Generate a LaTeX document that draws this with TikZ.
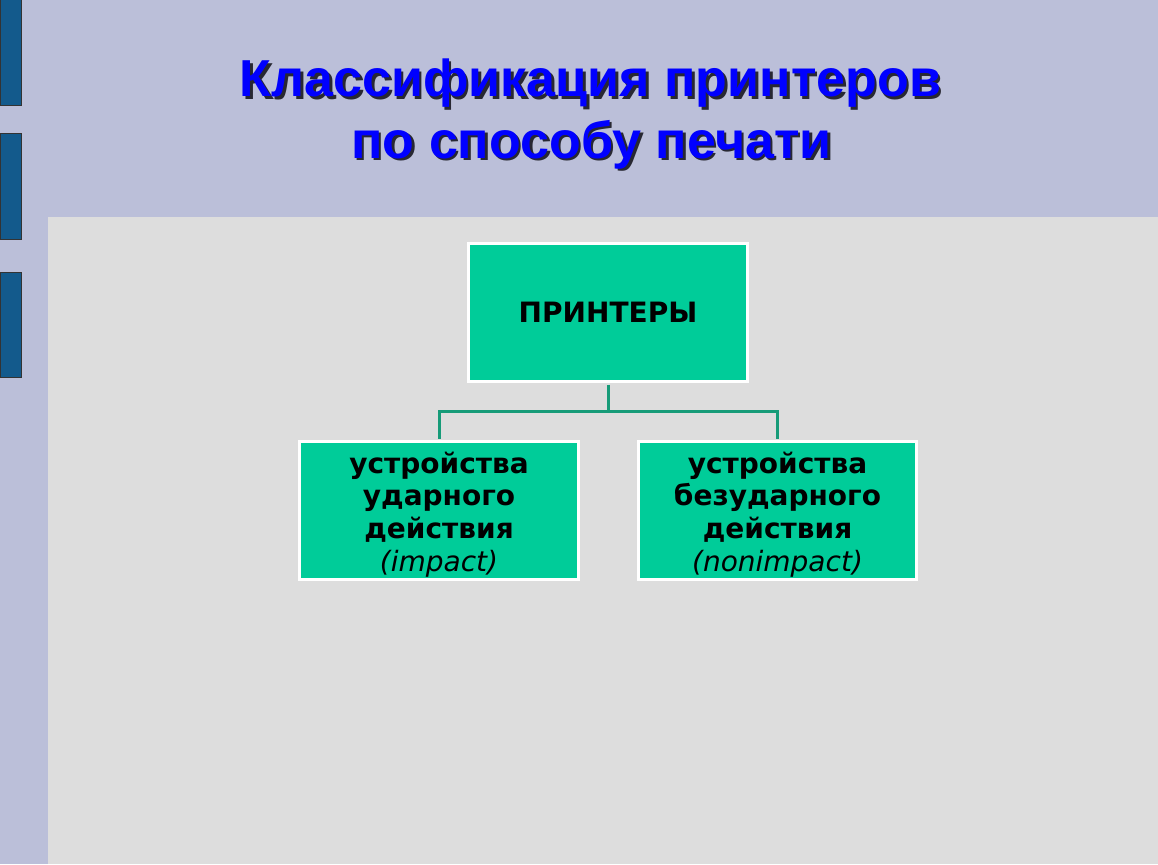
\documentclass[tikz,border=0pt]{standalone}
\usepackage{fontspec}
\setmainfont{DejaVu Sans}
\newfontfamily\titlefont{Liberation Sans}
\newfontfamily\boxfont{DejaVu Sans}
\definecolor{bglav}{RGB}{187,191,217}
\definecolor{panelgray}{RGB}{221,221,221}
\definecolor{barblue}{RGB}{19,90,140}
\definecolor{boxgreen}{RGB}{0,204,153}
\definecolor{conngreen}{RGB}{22,155,120}
\definecolor{titleblue}{RGB}{0,0,255}
\definecolor{shadowgray}{RGB}{40,40,50}
\newcommand{\shadowed}[1]{\makebox[0pt][l]{\hspace{2.5pt}\raisebox{-2.5pt}{\color{shadowgray}#1}}#1}
\newcommand{\topstrut}{\rule{0pt}{29.5pt}}
\tikzset{
  bar/.style={fill=barblue,draw=black!80,line width=0.8pt},
  gbox/.style={rectangle,fill=boxgreen,draw=white,line width=3pt,align=center,inner sep=0pt},
  conn/.style={draw=conngreen,line width=3pt},
  titletext/.style={anchor=base,font=\titlefont\bfseries\fontsize{52}{61}\selectfont,text=titleblue,inner sep=0pt}
}
\begin{document}
\begin{tikzpicture}[x=1pt,y=-1pt]
\useasboundingbox (0,0) rectangle (1158,864);
\fill[bglav] (0,0) rectangle (1158,864);
\fill[panelgray] (48,216.5) rectangle (1158,864);
\draw[bar] (0.4,-1) rectangle (21,105);
\draw[bar] (0.4,133) rectangle (21,239);
\draw[bar] (0.4,272) rectangle (21,377);
% title
\node[titletext] (t1) at (590.5,97) {\shadowed{Классификация принтеров}};
\node[titletext] (t2) at (591.5,158) {\shadowed{по способу печати}};
% boxes
\node[gbox,minimum width=279pt,minimum height=138pt,font=\boxfont\bfseries\fontsize{28}{33}\selectfont] (top) at (608,312.5) {ПРИНТЕРЫ};
\node[gbox,minimum width=279pt,minimum height=138pt,font=\boxfont\fontsize{28}{32.7}\selectfont] (left) at (439,510.5)
  {\topstrut\bfseries устройства\\\bfseries ударного\\\bfseries действия\\\itshape (impact)};
\node[gbox,minimum width=278pt,minimum height=138pt,font=\boxfont\fontsize{28}{32.7}\selectfont] (right) at (777.5,510.5)
  {\topstrut\bfseries устройства\\\bfseries безударного\\\bfseries действия\\\itshape (nonimpact)};
% connectors
\coordinate (bus) at (608,411);
\draw[conn,shorten <=1.5pt] (top.south) -- (bus);
\draw[conn,shorten >=1.5pt] (bus) -| (left.north);
\draw[conn,shorten >=1.5pt] (bus) -| (right.north);
\end{tikzpicture}
\end{document}
